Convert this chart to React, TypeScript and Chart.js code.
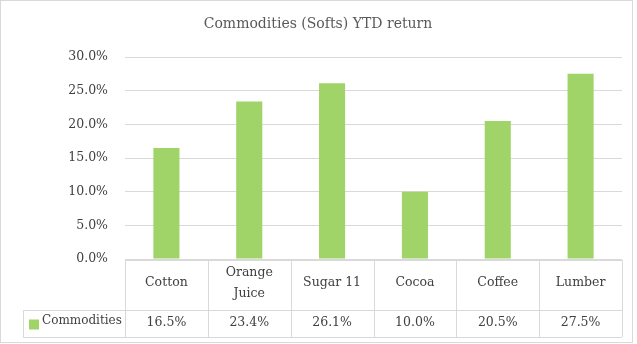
import React, { useEffect, useRef } from "react";
import { Chart, registerables } from "chart.js";

Chart.register(...registerables);

const title = "Commodities (Softs) YTD return";
const categories = ["Cotton", "Orange\nJuice", "Sugar 11", "Cocoa", "Coffee", "Lumber"];
const seriesName = "Commodities";
const values = [16.5, 23.4, 26.1, 10.0, 20.5, 27.5];
const yTicks = [0, 5, 10, 15, 20, 25, 30];

const FONT = "'DejaVu Serif', serif";
const TEXT = "#404040";
const LINE = "#d9d9d9";
const GREEN = "#a0d468";

const tablePlugin = {
  id: "tablePlugin",
  afterDraw(chart: any) {
    const ctx = chart.ctx;
    const area = chart.chartArea;
    const n = categories.length;
    const colW = (area.right - area.left) / n;
    const headTop = area.bottom + 1;
    const headBottom = headTop + 50;
    const rowBottom = headBottom + 27;
    const tableLeft = 23;
    ctx.save();
    ctx.strokeStyle = LINE;
    ctx.lineWidth = 1;
    ctx.strokeRect(0.5, 0.5, 632, 342);
    ctx.beginPath();
    for (let i = 0; i <= n; i++) {
      const x = Math.round(area.left + i * colW) + 0.5;
      ctx.moveTo(x, headTop);
      ctx.lineTo(x, rowBottom);
    }
    ctx.moveTo(area.left, Math.round(headTop) + 0.5);
    ctx.lineTo(area.right, Math.round(headTop) + 0.5);
    ctx.moveTo(tableLeft, Math.round(headBottom) + 0.5);
    ctx.lineTo(area.right, Math.round(headBottom) + 0.5);
    ctx.moveTo(tableLeft, Math.round(rowBottom) + 0.5);
    ctx.lineTo(area.right, Math.round(rowBottom) + 0.5);
    ctx.moveTo(tableLeft + 0.5, headBottom);
    ctx.lineTo(tableLeft + 0.5, rowBottom);
    ctx.stroke();

    ctx.fillStyle = TEXT;
    ctx.font = `12.5px ${FONT}`;
    ctx.textAlign = "center";
    ctx.textBaseline = "middle";
    const headMid = (headTop + headBottom) / 2 - 2;
    const rowMid = (headBottom + rowBottom) / 2 - 1;
    categories.forEach((c, i) => {
      const cx = area.left + (i + 0.5) * colW;
      const lines = c.split("\n");
      const lh = 21;
      lines.forEach((l, j) => {
        ctx.fillText(l, cx, headMid + (j - (lines.length - 1) / 2) * lh);
      });
      ctx.fillText(values[i].toFixed(1) + "%", cx, rowMid);
    });
    ctx.fillStyle = GREEN;
    ctx.fillRect(29, rowMid - 3, 10, 10);
    ctx.fillStyle = TEXT;
    ctx.font = `12px ${FONT}`;
    ctx.textAlign = "left";
    ctx.fillText(seriesName, 42, rowMid - 2);

    ctx.fillStyle = "#595959";
    ctx.font = `14px ${FONT}`;
    ctx.textAlign = "center";
    ctx.fillText(title, 318, 24);
    ctx.restore();
  },
};

export default function App() {
  const ref = useRef<HTMLCanvasElement>(null);
  useEffect(() => {
    document.body.style.margin = "0";
    const chart = new Chart(ref.current!, {
      type: "bar",
      data: {
        labels: categories.map((c) => c.replace("\n", " ")),
        datasets: [
          {
            label: seriesName,
            data: values,
            backgroundColor: GREEN,
            categoryPercentage: 1,
            barPercentage: 0.315,
          },
        ],
      },
      options: {
        animation: false,
        responsive: false,
        devicePixelRatio: 1,
        layout: { padding: { left: 0, right: 15, top: 57, bottom: 85 } },
        plugins: {
          legend: { display: false },
          title: { display: false },
          tooltip: { enabled: false },
        },
        scales: {
          x: {
            ticks: { display: false },
            grid: { display: false, drawTicks: false },
            border: { display: false },
          },
          y: {
            min: 0,
            max: 30,
            afterBuildTicks: (s: any) => {
              s.ticks = yTicks.map((v) => ({ value: v }));
            },
            afterFit: (s: any) => {
              s.width = 125;
            },
            ticks: {
              padding: 17,
              color: TEXT,
              font: { family: FONT, size: 12.5 },
              callback: (v: any) => Number(v).toFixed(1) + "%",
            },
            grid: { color: LINE, drawTicks: false },
            border: { display: false },
          },
        },
      },
      plugins: [tablePlugin],
    });
    return () => chart.destroy();
  }, []);
  return (
    <div style={{ width: 637, height: 344 }}>
      <canvas ref={ref} width={637} height={344} style={{ display: "block" }} />
    </div>
  );
}
